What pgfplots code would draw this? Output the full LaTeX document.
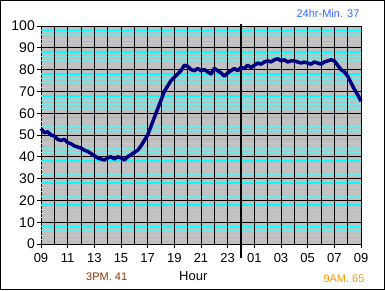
\documentclass[border=0pt]{standalone}
\usepackage{pgfplots}
\pgfplotsset{compat=1.18}
\usepackage{fontspec}
\setmainfont{Liberation Sans}
\definecolor{bgray}{RGB}{192,192,192}
\definecolor{navy}{RGB}{0,0,128}
\definecolor{lcyan}{RGB}{110,235,235}
\definecolor{bcyan}{RGB}{0,255,255}
\definecolor{mincol}{RGB}{51,102,255}
\definecolor{pmcol}{RGB}{153,51,0}
\definecolor{amcol}{RGB}{255,153,0}
\begin{document}
\begin{tikzpicture}
\useasboundingbox (-41pt,-46pt) rectangle (344pt,244pt);
\fill[white] (-41pt,-46pt) rectangle (344pt,244pt);
\draw[line width=1pt,black] (-40.5pt,-45.5pt) rectangle (343.5pt,243.5pt);
\begin{axis}[
  at={(0pt,0pt)}, anchor=south west,
  scale only axis, width=320pt, height=218pt,
  xmin=0, xmax=24, ymin=0, ymax=100,
  axis background/.style={fill=bgray},
  axis line style={black, line width=0.8pt},
  xtick={0,2,...,24},
  xticklabels={09,11,13,15,17,19,21,23,01,03,05,07,09},
  ytick={0,10,...,100},
  tick align=outside,
  major tick length=4pt,
  tick style={black, line width=0.8pt},
  xtick pos=bottom, ytick pos=left,
  /pgf/number format/assume math mode=true,
  yticklabel style={font=\fontsize{14}{16}\selectfont, inner sep=1pt, xshift=-1pt},
  xticklabel style={font=\fontsize{13}{15}\selectfont, inner sep=1pt, yshift=-4pt},
  clip=false,
]
% light cyan lines every 2 units
\pgfplotsinvokeforeach{2,4,6,12,14,16,22,24,26,32,34,36,42,44,46,52,54,56,62,64,66,72,74,76,82,84,86,92,94,96}{
  \addplot[lcyan, line width=1pt, forget plot] coordinates {(0,#1) (24,#1)};
}
% bright cyan lines
\pgfplotsinvokeforeach{8,18,28,38,48,58,68,78,88,98}{
  \addplot[bcyan, line width=1.5pt, forget plot] coordinates {(0,#1) (24,#1)};
}
% black horizontal lines
\pgfplotsinvokeforeach{10,20,30,40,50,60,70,80,90,100}{
  \addplot[black, line width=0.9pt, forget plot] coordinates {(0,#1) (24,#1)};
}
% black vertical lines every hour
\pgfplotsinvokeforeach{1,2,...,24}{
  \addplot[black, line width=0.9pt, forget plot] coordinates {(#1,0) (#1,100)};
}
% midnight
\addplot[black, line width=2.5pt, forget plot] coordinates {(15,100.8) (15,-6.4)};
\addplot[navy, line width=3.5pt, line join=round] table {
0 53
0.25 51
0.5 51.5
0.75 50
1 49.5
1.25 48
1.5 47.5
1.75 48
2 46.5
2.25 46
2.5 45
2.75 44.5
3 44
3.25 43
3.5 42.5
3.75 41.5
4 40.5
4.25 39.5
4.5 39
4.75 38.5
5 39.5
5.25 40
5.5 39
5.75 40
6 39.5
6.25 38.5
6.5 40
6.75 41
7 42
7.25 43
7.5 45
7.75 47.5
8 50
8.25 54
8.5 58
8.75 62
9 66
9.25 70
9.5 72.5
9.75 75
10 76.5
10.25 78
10.5 79.5
10.75 82
11 81.5
11.25 80
11.5 79.5
11.75 80.5
12 79.5
12.25 80
12.5 79
12.75 78
13 80.5
13.25 79.5
13.5 78.5
13.75 77
14 78.5
14.25 79.5
14.5 80.5
14.75 79.5
15 81
15.25 80.5
15.5 82
15.75 81
16 82
16.25 83
16.5 82.5
16.75 83.5
17 84
17.25 83.5
17.5 84.5
17.75 85
18 84
18.25 84.5
18.5 83.5
18.75 84
19 84
19.25 83.5
19.5 83
19.75 83.5
20 83
20.25 82.5
20.5 83.5
20.75 83
21 82.5
21.25 83.5
21.5 84
21.75 84.5
22 84
22.25 82
22.5 80
22.75 79
23 77
23.25 74
23.5 71
23.75 68.5
24 65.5
};
\end{axis}
\node[font=\fontsize{11}{13}\selectfont, text=mincol] at (287pt,230pt) {24hr-Min. 37};
\node[font=\fontsize{11}{13}\selectfont, text=pmcol] at (65.7pt,-32.7pt) {3PM. 41};
\node[font=\fontsize{13}{15}\selectfont, text=black] at (152.3pt,-31.7pt) {Hour};
\node[font=\fontsize{11}{13}\selectfont, text=amcol] at (303pt,-34.3pt) {9AM. 65};
\end{tikzpicture}
\end{document}
